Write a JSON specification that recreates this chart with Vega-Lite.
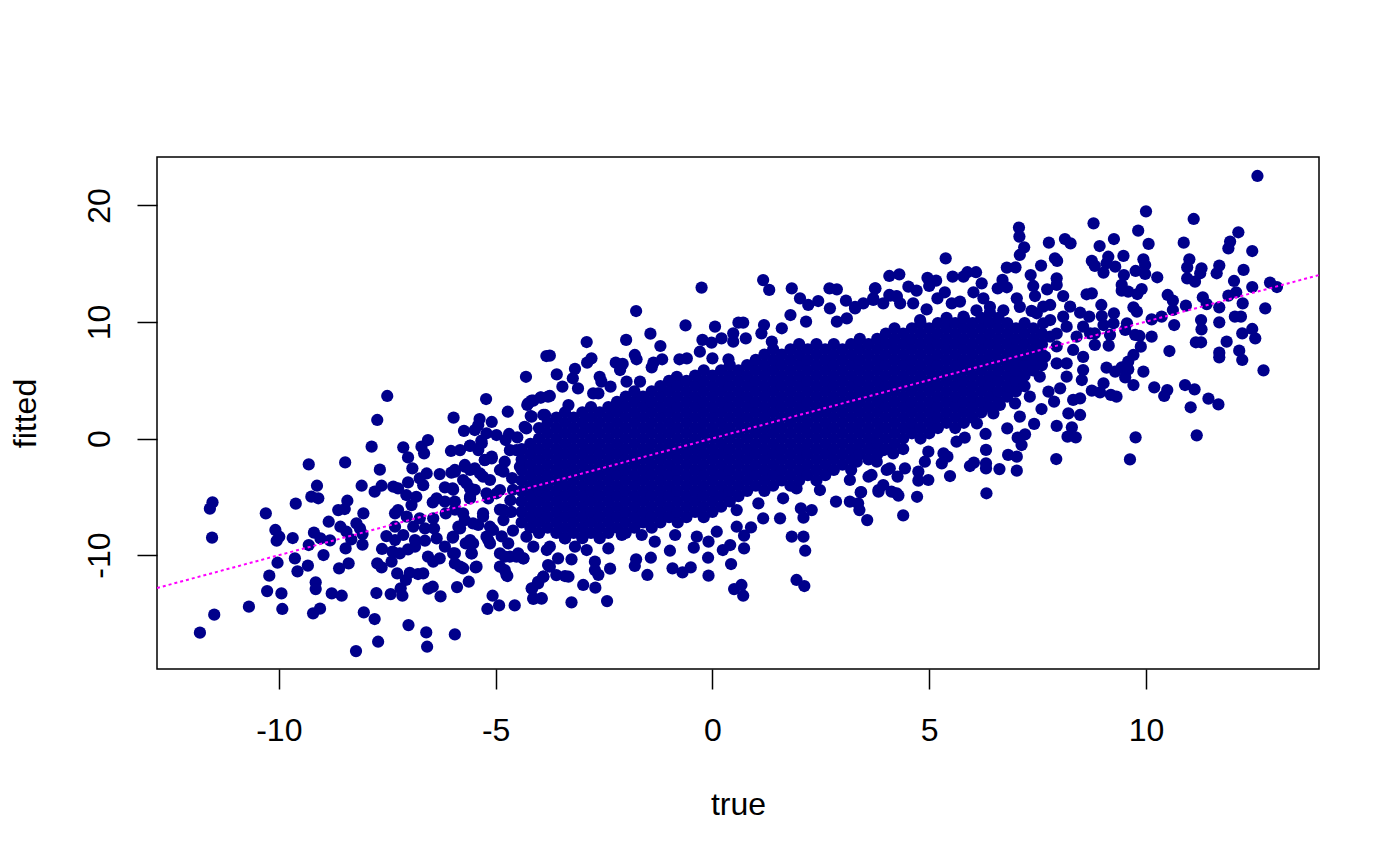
{"$schema":"https://vega.github.io/schema/vega-lite/v6.json","width":1162,"height":512,"autosize":"none","padding":{"left":157,"top":157,"right":81,"bottom":197},"background":"white","config":{"view":{"stroke":"black","strokeWidth":1.5,"fill":"white"},"font":"Liberation Sans"},"datasets":{"pts":[
{"x":-7.5,"y":3.65},{"x":-7.73,"y":1.59},{"x":-4.3,"y":5.3},{"x":-5.22,"y":3.39},{"x":-4.72,"y":2.3},{"x":-5.97,"y":1.79},{"x":-5.09,"y":1.42},{"x":-5.37,"y":1.67},{"x":-5.4,"y":1.16},{"x":-5.73,"y":0.65},{"x":-5.48,"y":0.73},{"x":-5.21,"y":0.45},{"x":-4.98,"y":0.3},{"x":-4.69,"y":0.39},{"x":-4.77,"y":-0.13},{"x":-5.33,"y":-0.19},{"x":-6.56,"y":-0.13},{"x":-6.71,"y":-0.7},{"x":-6.65,"y":-1.27},{"x":-7.86,"y":-0.7},{"x":-7.13,"y":-0.76},{"x":-7.02,"y":-1.62},{"x":-6.92,"y":-2.56},{"x":-6.03,"y":-1.07},{"x":-5.82,"y":-0.99},{"x":-5.59,"y":-0.64},{"x":-5.4,"y":-0.99},{"x":-5.25,"y":-1.85},{"x":-5.09,"y":-1.7},{"x":-9.31,"y":-2.22},{"x":-8.47,"y":-2.05},{"x":-7.67,"y":-2.67},{"x":-8.09,"y":-4.05},{"x":-9.12,"y":-4.05},{"x":-9.25,"y":-4.99},{"x":-9.09,"y":-5.13},{"x":-9.61,"y":-5.59},{"x":-10.3,"y":-6.42},{"x":-11.53,"y":-5.48},{"x":-11.59,"y":-6.02},{"x":-11.54,"y":-8.51},{"x":-10.08,"y":-7.85},{"x":-9.99,"y":-8.43},{"x":-10.05,"y":-8.77},{"x":-9.68,"y":-8.54},{"x":-9.19,"y":-8.08},{"x":-9.04,"y":-8.57},{"x":-8.82,"y":-8.74},{"x":-8.85,"y":-7.14},{"x":-8.63,"y":-6.14},{"x":-8.48,"y":-6.05},{"x":-8.42,"y":-5.34},{"x":-8.05,"y":-6.42},{"x":-8.21,"y":-7.28},{"x":-8.13,"y":-7.71},{"x":-8.58,"y":-7.57},{"x":-8.44,"y":-8},{"x":-8.33,"y":-8.65},{"x":-8.07,"y":-8.2},{"x":-9.31,"y":-9.14},{"x":-8.46,"y":-9.43},{"x":-8.07,"y":-9.11},{"x":-8.97,"y":-10},{"x":-9.63,"y":-10.28},{"x":-10.03,"y":-10.66},{"x":-9.33,"y":-10.91},{"x":-9.57,"y":-11.4},{"x":-10.22,"y":-11.77},{"x":-8.39,"y":-10.71},{"x":-8.61,"y":-11.14},{"x":-9.15,"y":-12.34},{"x":-9.15,"y":-12.92},{"x":-10.27,"y":-13.09},{"x":-9.94,"y":-13.29},{"x":-8.78,"y":-13.29},{"x":-8.55,"y":-13.49},{"x":-10.69,"y":-14.43},{"x":-9.92,"y":-14.63},{"x":-9.05,"y":-14.6},{"x":-9.21,"y":-15},{"x":-11.49,"y":-15.12},{"x":-11.82,"y":-16.66},{"x":-8.04,"y":-14.92},{"x":-7.79,"y":-15.49},{"x":-7.01,"y":-16.01},{"x":-6.6,"y":-16.64},{"x":-5.94,"y":-16.81},{"x":-7.71,"y":-17.44},{"x":-6.58,"y":-17.87},{"x":-8.22,"y":-18.24},{"x":-7.75,"y":-13.26},{"x":-7.42,"y":-13.35},{"x":-7.15,"y":-13.49},{"x":-7.19,"y":-12.86},{"x":-7.07,"y":-12.14},{"x":-6.98,"y":-11.52},{"x":-7.27,"y":-11.57},{"x":-6.79,"y":-11.63},{"x":-6.67,"y":-11.57},{"x":-6.55,"y":-12.89},{"x":-6.45,"y":-12.72},{"x":-6.27,"y":-13.55},{"x":-5.89,"y":-12.75},{"x":-5.62,"y":-12.29},{"x":-5.07,"y":-13.49},{"x":-5.19,"y":-14.63},{"x":-4.92,"y":-14.32},{"x":-4.56,"y":-14.32},{"x":-4.13,"y":-13.77},{"x":-3.94,"y":-13.75},{"x":-4.16,"y":-12.89},{"x":-4.02,"y":-12.43},{"x":-3.9,"y":-11.86},{"x":-7.73,"y":-10.71},{"x":-7.63,"y":-11.06},{"x":-7.62,"y":-9.48},{"x":-7.4,"y":-10.57},{"x":-7.38,"y":-9.71},{"x":-7.21,"y":-9.86},{"x":-7.02,"y":-9.51},{"x":-6.86,"y":-9.28},{"x":-7.52,"y":-8.37},{"x":-7.32,"y":-8.71},{"x":-7.13,"y":-8.28},{"x":-6.86,"y":-8.71},{"x":-6.63,"y":-8.77},{"x":-6.36,"y":-8.57},{"x":-6.17,"y":-9.28},{"x":-5.99,"y":-8.51},{"x":-6.56,"y":-10.14},{"x":-6.44,"y":-10.57},{"x":-6.29,"y":-10.28},{"x":-5.98,"y":-9.86},{"x":-5.94,"y":-10.71},{"x":-5.75,"y":-11.14},{"x":-5.46,"y":-11.06},{"x":-5.69,"y":-9},{"x":-5.52,"y":-9},{"x":-5.56,"y":-9.86},{"x":-4.79,"y":-11.29},{"x":-4.73,"y":-11.8},{"x":-5.13,"y":-9},{"x":-4.9,"y":-9.86},{"x":-4.71,"y":-9},{"x":-4.52,"y":-10.14},{"x":-4.36,"y":-10.28},{"x":-4.29,"y":-8.43},{"x":-7.32,"y":-6.42},{"x":-7.25,"y":-6.14},{"x":-7.05,"y":-6.71},{"x":-7.32,"y":-7.57},{"x":-6.9,"y":-7.57},{"x":-6.75,"y":-6.85},{"x":-6.44,"y":-6.85},{"x":-6.63,"y":-7.71},{"x":-6.42,"y":-7.71},{"x":-6.15,"y":-6.42},{"x":-5.86,"y":-7.57},{"x":-5.71,"y":-7},{"x":-5.4,"y":-7.42},{"x":-7.36,"y":-4.13},{"x":-7.25,"y":-4.28},{"x":-7.06,"y":-4.85},{"x":-7.02,"y":-3.76},{"x":-6.83,"y":-5},{"x":-6.94,"y":-5.71},{"x":-7.63,"y":-4.05},{"x":-7.79,"y":-4.56},{"x":-6.75,"y":-3.42},{"x":-6.59,"y":-3},{"x":-6.67,"y":-4},{"x":-6.29,"y":-3.05},{"x":-6.02,"y":-2.93},{"x":-5.94,"y":-2.7},{"x":-5.71,"y":-2.42},{"x":-5.48,"y":-2.56},{"x":-6.36,"y":-5.14},{"x":-6.45,"y":-5.48},{"x":-6.17,"y":-4.19},{"x":-5.99,"y":-4.28},{"x":-6.17,"y":-5.42},{"x":-5.94,"y":-5.42},{"x":-5.75,"y":-3.56},{"x":-5.59,"y":-4.28},{"x":-5.59,"y":-5.14},{"x":-5.17,"y":-5.14},{"x":-5.29,"y":-3.28},{"x":-4.82,"y":-2.85},{"x":-4.9,"y":-4.42},{"x":-4.82,"y":-6.14},{"x":-5.29,"y":-6.71},{"x":-5.06,"y":-7.85},{"x":-4.52,"y":-0.99},{"x":-4.29,"y":0.87},{"x":-4.17,"y":1.88},{"x":-4.25,"y":3.02},{"x":-4.13,"y":3.25},{"x":-3.96,"y":3.5},{"x":-3.79,"y":3.6},{"x":-3.9,"y":2.02},{"x":-4.44,"y":-2.42},{"x":-3.83,"y":7.08},
{"x":-0.25,"y":12.95},{"x":1.31,"y":12.75},{"x":1.17,"y":13.6},{"x":-1.76,"y":10.94},{"x":-0.62,"y":9.71},{"x":0.06,"y":9.6},{"x":0.71,"y":9.94},{"x":0.6,"y":9.94},{"x":1.83,"y":12.89},{"x":2.02,"y":12.03},{"x":2.21,"y":11.46},{"x":2.44,"y":11.8},{"x":2.7,"y":12.89},{"x":2.87,"y":12.8},{"x":3.08,"y":11.83},{"x":2.71,"y":11.17},{"x":3.29,"y":11.17},{"x":3.75,"y":12.89},{"x":3.71,"y":12.03},{"x":4.1,"y":12.26},{"x":4.25,"y":12.17},{"x":1.8,"y":10.6},{"x":2.16,"y":10.03},{"x":1.19,"y":9.74},{"x":1.13,"y":9.03},{"x":1.6,"y":9.46},{"x":2.87,"y":10.03},{"x":3.1,"y":10.31},{"x":-1.43,"y":9},{"x":-1.99,"y":8.46},{"x":-2.9,"y":8.28},{"x":-1.2,"y":7.94},{"x":-0.23,"y":8.46},{"x":-0.02,"y":8.23},{"x":0.21,"y":8.6},{"x":0.48,"y":9.03},{"x":0.48,"y":8.31},{"x":0.77,"y":8.6},{"x":1.37,"y":8.31},{"x":-3.75,"y":7.11},{"x":-2.79,"y":6.88},{"x":-2.89,"y":6.51},{"x":-1.79,"y":7.17},{"x":-1.75,"y":6.8},{"x":-2.23,"y":6.51},{"x":-2.07,"y":6.4},{"x":-2.13,"y":5.88},{"x":-1.16,"y":6.8},{"x":-1.36,"y":6.51},{"x":-0.76,"y":6.8},{"x":-0.59,"y":6.88},{"x":-0.29,"y":7.45},{"x":0,"y":6.88},{"x":0.37,"y":6.8},{"x":-3.59,"y":5.5},{"x":-3.17,"y":5.97},{"x":-3.22,"y":5.17},{"x":-2.6,"y":5.3},{"x":-2.56,"y":4.88},{"x":-2.35,"y":4.45},{"x":-3.46,"y":4.45},{"x":-3.1,"y":4.3},{"x":-2.75,"y":3.88},{"x":-2.63,"y":3.88},{"x":-1.4,"y":6.11},{"x":-0.82,"y":5.3},{"x":-1.98,"y":4.88},{"x":-1.67,"y":4.88},{"x":-3.75,"y":3.65},{"x":-3.96,"y":3.54},{"x":-4.17,"y":3.25},{"x":-4.27,"y":2.88},{"x":-3.86,"y":2.02},{"x":-4.19,"y":1.93},{"x":-4.33,"y":1},{"x":-3.32,"y":2.87},
{"x":-3.25,"y":-14.06},{"x":-2.43,"y":-13.95},{"x":-2.98,"y":-12.57},{"x":-2.7,"y":-12.8},{"x":-3.4,"y":-11.8},{"x":-3.6,"y":-11.72},{"x":-3.32,"y":-11.86},{"x":-2.36,"y":-11.17},{"x":-2.63,"y":-11.7},{"x":-2.71,"y":-10.57},{"x":-2.71,"y":-11.29},{"x":-1.5,"y":-11.71},{"x":-1.76,"y":-10.37},{"x":-1.79,"y":-10.94},{"x":-1.42,"y":-10.23},{"x":-0.98,"y":-9.63},{"x":-0.92,"y":-11.14},{"x":-0.69,"y":-11.49},{"x":-0.5,"y":-11.06},{"x":-0.09,"y":-11.77},{"x":-0.1,"y":-10.23},{"x":0.43,"y":-10.77},{"x":0.5,"y":-12.92},{"x":0.67,"y":-12.57},{"x":0.71,"y":-13.49},{"x":-0.43,"y":-9.37},{"x":0.24,"y":-9.57},{"x":0.41,"y":-9.14},{"x":0.73,"y":-9.43},{"x":1.94,"y":-12.14},{"x":2.12,"y":-12.66},{"x":2.14,"y":-9.63},{"x":1.83,"y":-8.42},{"x":2.1,"y":-8.42},{"x":3.57,"y":-7},{"x":0.73,"y":-8.34},{"x":0.89,"y":-7.62},{"x":0.56,"y":-7.57},{"x":1.17,"y":-6.85},{"x":1.56,"y":-6.85},{"x":2.1,"y":-6.79},{"x":2.04,"y":-6},{"x":2.29,"y":-6.14},{"x":2.85,"y":-5.42},{"x":3.39,"y":-6.14},{"x":3.43,"y":-4.59},{"x":4.4,"y":-6.6},{"x":3.83,"y":-4.56},{"x":4.25,"y":-4.7},{"x":3.17,"y":-5.42},{"x":2.48,"y":-4.42},{"x":3.6,"y":-3.28},{"x":4.02,"y":-2.7},{"x":1.94,"y":-4.28},{"x":1.06,"y":-5.56},{"x":1.63,"y":-5.13},{"x":0.1,"y":-8},{"x":-0.09,"y":-8.85},{"x":-0.86,"y":-8.28},{"x":-1.33,"y":-8.85},{"x":-1.63,"y":-8.28},{"x":-2.09,"y":-8.28},{"x":-2.4,"y":-9.43},{"x":-2.9,"y":-9.57},{"x":-3.17,"y":-9.28},{"x":-3.4,"y":-8.57},{"x":-3.25,"y":-10.37},{"x":-3.56,"y":-10.28},{"x":-3.79,"y":-10.86},{"x":-3.75,"y":-9.28},{"x":-4.36,"y":-10.28},{"x":-4.67,"y":-10.14},{"x":-0.36,"y":-8.42},{"x":0.56,"y":-6.14},
{"x":12.57,"y":22.53},{"x":10,"y":19.5},{"x":11.1,"y":18.84},{"x":8.79,"y":18.47},{"x":9.82,"y":17.84},{"x":12.13,"y":17.7},{"x":7.07,"y":18.1},{"x":7.08,"y":17.33},{"x":8.13,"y":17.12},{"x":8.26,"y":16.75},{"x":7.76,"y":16.81},{"x":7.19,"y":16.41},{"x":7.09,"y":15.75},{"x":9.26,"y":17.12},{"x":8.93,"y":16.52},{"x":10.06,"y":16.7},{"x":10.87,"y":16.81},{"x":11.94,"y":16.9},{"x":11.9,"y":16.32},{"x":12.45,"y":16.09},{"x":5.38,"y":15.46},{"x":9.13,"y":15.6},{"x":9.48,"y":15.67},{"x":9.94,"y":15.38},{"x":11,"y":15.38},{"x":7.9,"y":15.47},{"x":7.95,"y":15.24},{"x":8.75,"y":15.24},{"x":8.82,"y":14.81},{"x":9.29,"y":14.75},{"x":9.09,"y":15.04},{"x":9.98,"y":14.89},{"x":10.95,"y":14.69},{"x":7.58,"y":14.84},{"x":6.79,"y":14.67},{"x":6.99,"y":14.69},{"x":11.69,"y":14.84},{"x":11.28,"y":14.61},{"x":12.25,"y":14.47},{"x":4.08,"y":13.95},{"x":4.31,"y":14.09},{"x":4.96,"y":13.78},{"x":5.16,"y":13.55},{"x":5,"y":13.09},{"x":5.54,"y":13.89},{"x":5.79,"y":13.89},{"x":5.88,"y":14.27},{"x":6.08,"y":14.27},{"x":9.02,"y":14.24},{"x":9.49,"y":14.03},{"x":9.76,"y":14.38},{"x":9.98,"y":14.12},{"x":10.26,"y":13.84},{"x":11.63,"y":14.18},{"x":11.25,"y":14.18},{"x":10.95,"y":13.75},{"x":11.13,"y":13.46},{"x":7.34,"y":14.03},{"x":7.94,"y":13.75},{"x":12.03,"y":13.52},{"x":12.86,"y":13.38},{"x":13.02,"y":13},{"x":12.45,"y":13},{"x":6.21,"y":13.32},{"x":6.69,"y":13.61},{"x":6.58,"y":12.89},{"x":6.79,"y":12.98},{"x":7.4,"y":13.09},{"x":7.94,"y":13.18},{"x":7.72,"y":12.8},{"x":9.44,"y":13.18},{"x":9.44,"y":12.69},{"x":9.59,"y":12.6},{"x":9.8,"y":12.4},{"x":9.9,"y":12.83},{"x":3.76,"y":12.89},{"x":4.52,"y":13.03},{"x":4.71,"y":12.69},{"x":4.08,"y":12.32},{"x":4.25,"y":12.23},{"x":5.36,"y":12.55},{"x":6.02,"y":12.55},{"x":7.44,"y":12.23},{"x":8.63,"y":12.38},{"x":8.75,"y":12.46},{"x":8.09,"y":12.23},{"x":10.5,"y":12.32},{"x":12.08,"y":12.55},{"x":11.9,"y":12.26},{"x":11.31,"y":12.12},{"x":10.62,"y":11.83},{"x":5.19,"y":12.03},{"x":5.71,"y":11.75},{"x":5.52,"y":11.6},{"x":7.02,"y":12.03},{"x":6.25,"y":12.03},{"x":12.23,"y":11.6},{"x":11.4,"y":11.54},{"x":12.75,"y":11.17},{"x":11.69,"y":11.26},{"x":10.92,"y":11.4},{"x":8.97,"y":11.46},{"x":9.71,"y":11.26},{"x":9.79,"y":10.89},{"x":10.62,"y":11.03},{"x":9.26,"y":10.75},{"x":4.94,"y":11.09},{"x":7.36,"y":10.95},{"x":7.63,"y":11.32},{"x":7.79,"y":11.46},{"x":8.25,"y":11.32},{"x":8.48,"y":10.8},{"x":10.36,"y":10.46},{"x":10.13,"y":10.23},{"x":12.19,"y":10.46},{"x":12.05,"y":10.46},{"x":8.98,"y":10.51},{"x":8.69,"y":10.46},{"x":11.27,"y":10.17},{"x":11.69,"y":9.97},{"x":10.65,"y":9.74},{"x":9.25,"y":9.89},{"x":9.56,"y":9.89},{"x":9.02,"y":9.74},{"x":9.52,"y":9.32},{"x":9.75,"y":8.89},{"x":9.85,"y":8.8},{"x":10.13,"y":8.74},{"x":11.28,"y":9.37},{"x":12.45,"y":9.4},{"x":12.22,"y":9.03},{"x":12.52,"y":8.6},{"x":9.17,"y":8.89},{"x":8.82,"y":9.03},{"x":8.82,"y":8.03},{"x":9.14,"y":7.97},{"x":11.15,"y":8.26},{"x":11.27,"y":8.26},{"x":11.86,"y":8.31},{"x":9.88,"y":7.88},{"x":10.54,"y":7.51},{"x":11.69,"y":7.37},{"x":11.69,"y":6.97},{"x":12.15,"y":7.54},{"x":12.22,"y":6.74},{"x":9.71,"y":7.17},{"x":9.59,"y":6.6},{"x":12.71,"y":5.85},{"x":9.94,"y":5.74},{"x":9.09,"y":6.08},{"x":9.29,"y":5.74},{"x":9.44,"y":6.11},{"x":9.59,"y":5.94},{"x":9.52,"y":5.25},{"x":9.71,"y":4.59},{"x":9.02,"y":4.74},{"x":8.75,"y":4.11},{"x":8.94,"y":3.96},{"x":9.19,"y":3.74},{"x":9.32,"y":3.59},{"x":10.19,"y":4.39},{"x":10.49,"y":4.16},{"x":10.42,"y":3.65},{"x":10.9,"y":4.59},{"x":11.12,"y":4.22},{"x":11.44,"y":3.42},{"x":11.67,"y":2.93},{"x":11.03,"y":2.68},{"x":11.17,"y":0.27},{"x":9.76,"y":0.1},{"x":9.63,"y":-1.79},{"x":8.52,"y":5.02},{"x":8.48,"y":3.45},{"x":8.32,"y":3.31},{"x":8.48,"y":2.02},{"x":8.21,"y":2.16},{"x":7.88,"y":3.16},{"x":7.59,"y":2.53},{"x":8.02,"y":4.31},{"x":7.75,"y":4.02},{"x":8.55,"y":5.88},{"x":8.17,"y":5.31},{"x":7.94,"y":6.45},{"x":7.67,"y":7.03},{"x":7.55,"y":5.31},{"x":7.32,"y":3.59},{"x":6.98,"y":3.02},{"x":7.09,"y":1.88},{"x":7.42,"y":1.25},{"x":7.94,"y":1.08},{"x":8.29,"y":0.96},{"x":8.19,"y":0.16},{"x":8.38,"y":0.1},{"x":6.8,"y":0.87},{"x":7.21,"y":0.36},{"x":7.04,"y":0.07},{"x":7.13,"y":-0.56},{"x":6.3,"y":0.39},{"x":6.31,"y":-0.98},{"x":6.82,"y":-1.41},{"x":7.02,"y":-1.56},{"x":7.93,"y":-1.76},{"x":7.02,"y":-2.76},{"x":6.62,"y":-2.62},{"x":6.31,"y":-2.13},{"x":6.31,"y":-2.56},{"x":6.03,"y":-2.07},{"x":5.94,"y":-2.36},{"x":6.32,"y":-4.7},{"x":5.82,"y":0.07},{"x":5.63,"y":-0.27},{"x":5.48,"y":-3.22},{"x":5.42,"y":-1.56},{"x":5.33,"y":-1.27},{"x":5.29,"y":-2.13},{"x":4.98,"y":-1.13},{"x":4.9,"y":-1.99},{"x":4.98,"y":-3.56},{"x":4.75,"y":-2.84},{"x":4.75,"y":-3.62},{"x":4.72,"y":-5},{"x":4.29,"y":-4.9},{"x":4.13,"y":-4.56},{"x":3.83,"y":-4.42},{"x":3.42,"y":-4.62},{"x":3.36,"y":-5.56},{"x":4.27,"y":-3.27},{"x":3.94,"y":-3.99},{"x":3.67,"y":-3.13},{"x":3.79,"y":-1.99},{"x":4.17,"y":-1.27},{"x":4.44,"y":-2.56},{"x":4.09,"y":-2.56},{"x":3.33,"y":-1.99},{"x":3.17,"y":-3.56},{"x":6.1,"y":1.3},{"x":6.48,"y":2.16},{"x":6.63,"y":2.88},{"x":6.79,"y":4.16},{"x":7.02,"y":4.74},{"x":6.56,"y":5.02},{"x":5.09,"y":1.59},{"x":7.25,"y":7.03},
{"x":-5.98,"y":-8.42},{"x":-5.59,"y":-8.71},{"x":-5.55,"y":-9.86},{"x":-5.94,"y":-9.86},{"x":-5.82,"y":-11},{"x":-5.44,"y":-11},{"x":-5.17,"y":-8.71},{"x":-4.86,"y":-8.4},{"x":-4.79,"y":-10.14},{"x":-4.9,"y":-11},{"x":-4.75,"y":-11.7},{"x":-4.48,"y":-9.86},{"x":-4.13,"y":-9.28},{"x":-3.82,"y":-9.57},{"x":-3.75,"y":-11},{"x":-3.9,"y":-11.86},{"x":-4.02,"y":-12.3},{"x":-4.17,"y":-12.86},{"x":-4.13,"y":-13.7},{"x":-3.94,"y":-13.7},{"x":-5.59,"y":-0.6},{"x":-5.32,"y":-0.4},{"x":-5.25,"y":-1.84},{"x":-5.09,"y":-1.56},{"x":-5.71,"y":-2.27},{"x":-5.94,"y":-2.85},{"x":-5.59,"y":-2.7},{"x":-5.36,"y":-3},{"x":-5.67,"y":-3.85},{"x":-5.98,"y":-4.4},{"x":-5.48,"y":-4.4},{"x":-5.13,"y":-3.56},{"x":-4.9,"y":-2.7},{"x":-4.79,"y":-1.99},{"x":-4.67,"y":-1},{"x":-4.5,"y":0.1},{"x":-5.59,"y":-5},{"x":-5.21,"y":-4.7},{"x":-4.98,"y":-4.7},{"x":-4.9,"y":-6.1},{"x":-5.29,"y":-6.42},{"x":-5.75,"y":-6.42},{"x":-5.94,"y":-6.1},{"x":-5.52,"y":-7.28},{"x":-5.82,"y":-7.71},{"x":-5.13,"y":-7.57},{"x":-4.82,"y":-7},{"x":-5.21,"y":-8.42},{"x":-4.62,"y":-3.4},{"x":-4.66,"y":-5.3},{"x":-4.6,"y":-7.9},{"x":-4.6,"y":-4.4},{"x":-4.64,"y":-6.3},
{"x":7.79,"y":10.17},{"x":8.17,"y":9.6},{"x":8.55,"y":9.6},{"x":7.94,"y":9},{"x":8.4,"y":8.74},{"x":7.94,"y":7.9},{"x":8.32,"y":7.6},{"x":8.55,"y":7},{"x":8.17,"y":6.45},{"x":7.79,"y":8.74},{"x":7.63,"y":9.89},{"x":8.71,"y":9.03},{"x":8.09,"y":10.46},{"x":7.48,"y":10.75},{"x":7.4,"y":5.88},{"x":7.09,"y":6.74},{"x":6.86,"y":6.17},{"x":7.02,"y":5.3},{"x":3.94,"y":11.6},{"x":4.33,"y":11.6},{"x":4.63,"y":11.6},{"x":4.79,"y":10.17},{"x":5.4,"y":10.17},{"x":5.79,"y":10.46},{"x":6.09,"y":11},{"x":6.4,"y":11.3},{"x":6.71,"y":11},{"x":7.09,"y":11.3},{"x":3.48,"y":11.6},{"x":3.29,"y":11.3},{"x":3.71,"y":11.9},{"x":3.94,"y":-1},{"x":3.71,"y":-0.4},{"x":4.56,"y":1},{"x":5.1,"y":2.7},{"x":5.63,"y":3.3},{"x":6,"y":3.3},{"x":6.48,"y":3.9},
{"x":-4.4,"y":-7.2},{"x":-4.4,"y":-6.3},{"x":-4.4,"y":-5.4},{"x":-4.4,"y":-4.5},{"x":-4.4,"y":-3.6},{"x":-4.4,"y":-2.7},{"x":-4.4,"y":-1.8},{"x":-4.4,"y":-0.9},
{"x":-4.2,"y":-7.65},{"x":-4.2,"y":-6.75},{"x":-4.2,"y":-5.85},{"x":-4.2,"y":-4.95},{"x":-4.2,"y":-4.05},{"x":-4.2,"y":-3.15},{"x":-4.2,"y":-2.25},{"x":-4.2,"y":-1.35},{"x":-4.2,"y":-0.45},
{"x":-4,"y":-8.1},{"x":-4,"y":-7.2},{"x":-4,"y":-6.3},{"x":-4,"y":-5.4},{"x":-4,"y":-4.5},{"x":-4,"y":-3.6},{"x":-4,"y":-2.7},{"x":-4,"y":-1.8},{"x":-4,"y":-0.9},{"x":-4,"y":0},{"x":-4,"y":0.9},
{"x":-3.8,"y":-7.65},{"x":-3.8,"y":-6.75},{"x":-3.8,"y":-5.85},{"x":-3.8,"y":-4.95},{"x":-3.8,"y":-4.05},{"x":-3.8,"y":-3.15},{"x":-3.8,"y":-2.25},{"x":-3.8,"y":-1.35},{"x":-3.8,"y":-0.45},{"x":-3.8,"y":0.45},{"x":-3.8,"y":1.35},
{"x":-3.6,"y":-8.1},{"x":-3.6,"y":-7.2},{"x":-3.6,"y":-6.3},{"x":-3.6,"y":-5.4},{"x":-3.6,"y":-4.5},{"x":-3.6,"y":-3.6},{"x":-3.6,"y":-2.7},{"x":-3.6,"y":-1.8},{"x":-3.6,"y":-0.9},{"x":-3.6,"y":0},{"x":-3.6,"y":0.9},{"x":-3.6,"y":1.8},
{"x":-3.4,"y":-8.55},{"x":-3.4,"y":-7.65},{"x":-3.4,"y":-6.75},{"x":-3.4,"y":-5.85},{"x":-3.4,"y":-4.95},{"x":-3.4,"y":-4.05},{"x":-3.4,"y":-3.15},{"x":-3.4,"y":-2.25},{"x":-3.4,"y":-1.35},{"x":-3.4,"y":-0.45},{"x":-3.4,"y":0.45},{"x":-3.4,"y":1.35},{"x":-3.4,"y":2.25},
{"x":-3.2,"y":-8.1},{"x":-3.2,"y":-7.2},{"x":-3.2,"y":-6.3},{"x":-3.2,"y":-5.4},{"x":-3.2,"y":-4.5},{"x":-3.2,"y":-3.6},{"x":-3.2,"y":-2.7},{"x":-3.2,"y":-1.8},{"x":-3.2,"y":-0.9},{"x":-3.2,"y":0},{"x":-3.2,"y":0.9},{"x":-3.2,"y":1.8},
{"x":-3,"y":-8.55},{"x":-3,"y":-7.65},{"x":-3,"y":-6.75},{"x":-3,"y":-5.85},{"x":-3,"y":-4.95},{"x":-3,"y":-4.05},{"x":-3,"y":-3.15},{"x":-3,"y":-2.25},{"x":-3,"y":-1.35},{"x":-3,"y":-0.45},{"x":-3,"y":0.45},{"x":-3,"y":1.35},{"x":-3,"y":2.25},
{"x":-2.8,"y":-8.1},{"x":-2.8,"y":-7.2},{"x":-2.8,"y":-6.3},{"x":-2.8,"y":-5.4},{"x":-2.8,"y":-4.5},{"x":-2.8,"y":-3.6},{"x":-2.8,"y":-2.7},{"x":-2.8,"y":-1.8},{"x":-2.8,"y":-0.9},{"x":-2.8,"y":0},{"x":-2.8,"y":0.9},{"x":-2.8,"y":1.8},{"x":-2.8,"y":2.7},
{"x":-2.6,"y":-8.55},{"x":-2.6,"y":-7.65},{"x":-2.6,"y":-6.75},{"x":-2.6,"y":-5.85},{"x":-2.6,"y":-4.95},{"x":-2.6,"y":-4.05},{"x":-2.6,"y":-3.15},{"x":-2.6,"y":-2.25},{"x":-2.6,"y":-1.35},{"x":-2.6,"y":-0.45},{"x":-2.6,"y":0.45},{"x":-2.6,"y":1.35},{"x":-2.6,"y":2.25},
{"x":-2.4,"y":-8.1},{"x":-2.4,"y":-7.2},{"x":-2.4,"y":-6.3},{"x":-2.4,"y":-5.4},{"x":-2.4,"y":-4.5},{"x":-2.4,"y":-3.6},{"x":-2.4,"y":-2.7},{"x":-2.4,"y":-1.8},{"x":-2.4,"y":-0.9},{"x":-2.4,"y":0},{"x":-2.4,"y":0.9},{"x":-2.4,"y":1.8},{"x":-2.4,"y":2.7},
{"x":-2.2,"y":-7.65},{"x":-2.2,"y":-6.75},{"x":-2.2,"y":-5.85},{"x":-2.2,"y":-4.95},{"x":-2.2,"y":-4.05},{"x":-2.2,"y":-3.15},{"x":-2.2,"y":-2.25},{"x":-2.2,"y":-1.35},{"x":-2.2,"y":-0.45},{"x":-2.2,"y":0.45},{"x":-2.2,"y":1.35},{"x":-2.2,"y":2.25},{"x":-2.2,"y":3.15},
{"x":-2,"y":-8.1},{"x":-2,"y":-7.2},{"x":-2,"y":-6.3},{"x":-2,"y":-5.4},{"x":-2,"y":-4.5},{"x":-2,"y":-3.6},{"x":-2,"y":-2.7},{"x":-2,"y":-1.8},{"x":-2,"y":-0.9},{"x":-2,"y":0},{"x":-2,"y":0.9},{"x":-2,"y":1.8},{"x":-2,"y":2.7},{"x":-2,"y":3.6},
{"x":-1.8,"y":-7.65},{"x":-1.8,"y":-6.75},{"x":-1.8,"y":-5.85},{"x":-1.8,"y":-4.95},{"x":-1.8,"y":-4.05},{"x":-1.8,"y":-3.15},{"x":-1.8,"y":-2.25},{"x":-1.8,"y":-1.35},{"x":-1.8,"y":-0.45},{"x":-1.8,"y":0.45},{"x":-1.8,"y":1.35},{"x":-1.8,"y":2.25},{"x":-1.8,"y":3.15},{"x":-1.8,"y":4.05},
{"x":-1.6,"y":-7.2},{"x":-1.6,"y":-6.3},{"x":-1.6,"y":-5.4},{"x":-1.6,"y":-4.5},{"x":-1.6,"y":-3.6},{"x":-1.6,"y":-2.7},{"x":-1.6,"y":-1.8},{"x":-1.6,"y":-0.9},{"x":-1.6,"y":0},{"x":-1.6,"y":0.9},{"x":-1.6,"y":1.8},{"x":-1.6,"y":2.7},{"x":-1.6,"y":3.6},
{"x":-1.4,"y":-7.65},{"x":-1.4,"y":-6.75},{"x":-1.4,"y":-5.85},{"x":-1.4,"y":-4.95},{"x":-1.4,"y":-4.05},{"x":-1.4,"y":-3.15},{"x":-1.4,"y":-2.25},{"x":-1.4,"y":-1.35},{"x":-1.4,"y":-0.45},{"x":-1.4,"y":0.45},{"x":-1.4,"y":1.35},{"x":-1.4,"y":2.25},{"x":-1.4,"y":3.15},{"x":-1.4,"y":4.05},
{"x":-1.2,"y":-7.2},{"x":-1.2,"y":-6.3},{"x":-1.2,"y":-5.4},{"x":-1.2,"y":-4.5},{"x":-1.2,"y":-3.6},{"x":-1.2,"y":-2.7},{"x":-1.2,"y":-1.8},{"x":-1.2,"y":-0.9},{"x":-1.2,"y":0},{"x":-1.2,"y":0.9},{"x":-1.2,"y":1.8},{"x":-1.2,"y":2.7},{"x":-1.2,"y":3.6},{"x":-1.2,"y":4.5},
{"x":-1,"y":-6.75},{"x":-1,"y":-5.85},{"x":-1,"y":-4.95},{"x":-1,"y":-4.05},{"x":-1,"y":-3.15},{"x":-1,"y":-2.25},{"x":-1,"y":-1.35},{"x":-1,"y":-0.45},{"x":-1,"y":0.45},{"x":-1,"y":1.35},{"x":-1,"y":2.25},{"x":-1,"y":3.15},{"x":-1,"y":4.05},{"x":-1,"y":4.95},
{"x":-0.8,"y":-7.2},{"x":-0.8,"y":-6.3},{"x":-0.8,"y":-5.4},{"x":-0.8,"y":-4.5},{"x":-0.8,"y":-3.6},{"x":-0.8,"y":-2.7},{"x":-0.8,"y":-1.8},{"x":-0.8,"y":-0.9},{"x":-0.8,"y":0},{"x":-0.8,"y":0.9},{"x":-0.8,"y":1.8},{"x":-0.8,"y":2.7},{"x":-0.8,"y":3.6},{"x":-0.8,"y":4.5},
{"x":-0.6,"y":-6.75},{"x":-0.6,"y":-5.85},{"x":-0.6,"y":-4.95},{"x":-0.6,"y":-4.05},{"x":-0.6,"y":-3.15},{"x":-0.6,"y":-2.25},{"x":-0.6,"y":-1.35},{"x":-0.6,"y":-0.45},{"x":-0.6,"y":0.45},{"x":-0.6,"y":1.35},{"x":-0.6,"y":2.25},{"x":-0.6,"y":3.15},{"x":-0.6,"y":4.05},{"x":-0.6,"y":4.95},
{"x":-0.4,"y":-6.3},{"x":-0.4,"y":-5.4},{"x":-0.4,"y":-4.5},{"x":-0.4,"y":-3.6},{"x":-0.4,"y":-2.7},{"x":-0.4,"y":-1.8},{"x":-0.4,"y":-0.9},{"x":-0.4,"y":0},{"x":-0.4,"y":0.9},{"x":-0.4,"y":1.8},{"x":-0.4,"y":2.7},{"x":-0.4,"y":3.6},{"x":-0.4,"y":4.5},{"x":-0.4,"y":5.4},
{"x":-0.2,"y":-6.75},{"x":-0.2,"y":-5.85},{"x":-0.2,"y":-4.95},{"x":-0.2,"y":-4.05},{"x":-0.2,"y":-3.15},{"x":-0.2,"y":-2.25},{"x":-0.2,"y":-1.35},{"x":-0.2,"y":-0.45},{"x":-0.2,"y":0.45},{"x":-0.2,"y":1.35},{"x":-0.2,"y":2.25},{"x":-0.2,"y":3.15},{"x":-0.2,"y":4.05},{"x":-0.2,"y":4.95},{"x":-0.2,"y":5.85},
{"x":0,"y":-6.3},{"x":0,"y":-5.4},{"x":0,"y":-4.5},{"x":0,"y":-3.6},{"x":0,"y":-2.7},{"x":0,"y":-1.8},{"x":0,"y":-0.9},{"x":0,"y":0},{"x":0,"y":0.9},{"x":0,"y":1.8},{"x":0,"y":2.7},{"x":0,"y":3.6},{"x":0,"y":4.5},{"x":0,"y":5.4},
{"x":0.2,"y":-5.85},{"x":0.2,"y":-4.95},{"x":0.2,"y":-4.05},{"x":0.2,"y":-3.15},{"x":0.2,"y":-2.25},{"x":0.2,"y":-1.35},{"x":0.2,"y":-0.45},{"x":0.2,"y":0.45},{"x":0.2,"y":1.35},{"x":0.2,"y":2.25},{"x":0.2,"y":3.15},{"x":0.2,"y":4.05},{"x":0.2,"y":4.95},{"x":0.2,"y":5.85},
{"x":0.4,"y":-5.4},{"x":0.4,"y":-4.5},{"x":0.4,"y":-3.6},{"x":0.4,"y":-2.7},{"x":0.4,"y":-1.8},{"x":0.4,"y":-0.9},{"x":0.4,"y":0},{"x":0.4,"y":0.9},{"x":0.4,"y":1.8},{"x":0.4,"y":2.7},{"x":0.4,"y":3.6},{"x":0.4,"y":4.5},{"x":0.4,"y":5.4},{"x":0.4,"y":6.3},
{"x":0.6,"y":-4.95},{"x":0.6,"y":-4.05},{"x":0.6,"y":-3.15},{"x":0.6,"y":-2.25},{"x":0.6,"y":-1.35},{"x":0.6,"y":-0.45},{"x":0.6,"y":0.45},{"x":0.6,"y":1.35},{"x":0.6,"y":2.25},{"x":0.6,"y":3.15},{"x":0.6,"y":4.05},{"x":0.6,"y":4.95},{"x":0.6,"y":5.85},
{"x":0.8,"y":-4.5},{"x":0.8,"y":-3.6},{"x":0.8,"y":-2.7},{"x":0.8,"y":-1.8},{"x":0.8,"y":-0.9},{"x":0.8,"y":0},{"x":0.8,"y":0.9},{"x":0.8,"y":1.8},{"x":0.8,"y":2.7},{"x":0.8,"y":3.6},{"x":0.8,"y":4.5},{"x":0.8,"y":5.4},{"x":0.8,"y":6.3},
{"x":1,"y":-4.05},{"x":1,"y":-3.15},{"x":1,"y":-2.25},{"x":1,"y":-1.35},{"x":1,"y":-0.45},{"x":1,"y":0.45},{"x":1,"y":1.35},{"x":1,"y":2.25},{"x":1,"y":3.15},{"x":1,"y":4.05},{"x":1,"y":4.95},{"x":1,"y":5.85},{"x":1,"y":6.75},
{"x":1.2,"y":-4.5},{"x":1.2,"y":-3.6},{"x":1.2,"y":-2.7},{"x":1.2,"y":-1.8},{"x":1.2,"y":-0.9},{"x":1.2,"y":0},{"x":1.2,"y":0.9},{"x":1.2,"y":1.8},{"x":1.2,"y":2.7},{"x":1.2,"y":3.6},{"x":1.2,"y":4.5},{"x":1.2,"y":5.4},{"x":1.2,"y":6.3},{"x":1.2,"y":7.2},
{"x":1.4,"y":-4.05},{"x":1.4,"y":-3.15},{"x":1.4,"y":-2.25},{"x":1.4,"y":-1.35},{"x":1.4,"y":-0.45},{"x":1.4,"y":0.45},{"x":1.4,"y":1.35},{"x":1.4,"y":2.25},{"x":1.4,"y":3.15},{"x":1.4,"y":4.05},{"x":1.4,"y":4.95},{"x":1.4,"y":5.85},{"x":1.4,"y":6.75},{"x":1.4,"y":7.65},
{"x":1.6,"y":-3.6},{"x":1.6,"y":-2.7},{"x":1.6,"y":-1.8},{"x":1.6,"y":-0.9},{"x":1.6,"y":0},{"x":1.6,"y":0.9},{"x":1.6,"y":1.8},{"x":1.6,"y":2.7},{"x":1.6,"y":3.6},{"x":1.6,"y":4.5},{"x":1.6,"y":5.4},{"x":1.6,"y":6.3},{"x":1.6,"y":7.2},
{"x":1.8,"y":-4.05},{"x":1.8,"y":-3.15},{"x":1.8,"y":-2.25},{"x":1.8,"y":-1.35},{"x":1.8,"y":-0.45},{"x":1.8,"y":0.45},{"x":1.8,"y":1.35},{"x":1.8,"y":2.25},{"x":1.8,"y":3.15},{"x":1.8,"y":4.05},{"x":1.8,"y":4.95},{"x":1.8,"y":5.85},{"x":1.8,"y":6.75},{"x":1.8,"y":7.65},
{"x":2,"y":-3.6},{"x":2,"y":-2.7},{"x":2,"y":-1.8},{"x":2,"y":-0.9},{"x":2,"y":0},{"x":2,"y":0.9},{"x":2,"y":1.8},{"x":2,"y":2.7},{"x":2,"y":3.6},{"x":2,"y":4.5},{"x":2,"y":5.4},{"x":2,"y":6.3},{"x":2,"y":7.2},{"x":2,"y":8.1},
{"x":2.2,"y":-3.15},{"x":2.2,"y":-2.25},{"x":2.2,"y":-1.35},{"x":2.2,"y":-0.45},{"x":2.2,"y":0.45},{"x":2.2,"y":1.35},{"x":2.2,"y":2.25},{"x":2.2,"y":3.15},{"x":2.2,"y":4.05},{"x":2.2,"y":4.95},{"x":2.2,"y":5.85},{"x":2.2,"y":6.75},{"x":2.2,"y":7.65},
{"x":2.4,"y":-3.6},{"x":2.4,"y":-2.7},{"x":2.4,"y":-1.8},{"x":2.4,"y":-0.9},{"x":2.4,"y":0},{"x":2.4,"y":0.9},{"x":2.4,"y":1.8},{"x":2.4,"y":2.7},{"x":2.4,"y":3.6},{"x":2.4,"y":4.5},{"x":2.4,"y":5.4},{"x":2.4,"y":6.3},{"x":2.4,"y":7.2},{"x":2.4,"y":8.1},
{"x":2.6,"y":-3.15},{"x":2.6,"y":-2.25},{"x":2.6,"y":-1.35},{"x":2.6,"y":-0.45},{"x":2.6,"y":0.45},{"x":2.6,"y":1.35},{"x":2.6,"y":2.25},{"x":2.6,"y":3.15},{"x":2.6,"y":4.05},{"x":2.6,"y":4.95},{"x":2.6,"y":5.85},{"x":2.6,"y":6.75},{"x":2.6,"y":7.65},
{"x":2.8,"y":-2.7},{"x":2.8,"y":-1.8},{"x":2.8,"y":-0.9},{"x":2.8,"y":0},{"x":2.8,"y":0.9},{"x":2.8,"y":1.8},{"x":2.8,"y":2.7},{"x":2.8,"y":3.6},{"x":2.8,"y":4.5},{"x":2.8,"y":5.4},{"x":2.8,"y":6.3},{"x":2.8,"y":7.2},{"x":2.8,"y":8.1},
{"x":3,"y":-2.25},{"x":3,"y":-1.35},{"x":3,"y":-0.45},{"x":3,"y":0.45},{"x":3,"y":1.35},{"x":3,"y":2.25},{"x":3,"y":3.15},{"x":3,"y":4.05},{"x":3,"y":4.95},{"x":3,"y":5.85},{"x":3,"y":6.75},{"x":3,"y":7.65},
{"x":3.2,"y":-2.7},{"x":3.2,"y":-1.8},{"x":3.2,"y":-0.9},{"x":3.2,"y":0},{"x":3.2,"y":0.9},{"x":3.2,"y":1.8},{"x":3.2,"y":2.7},{"x":3.2,"y":3.6},{"x":3.2,"y":4.5},{"x":3.2,"y":5.4},{"x":3.2,"y":6.3},{"x":3.2,"y":7.2},{"x":3.2,"y":8.1},
{"x":3.4,"y":-1.35},{"x":3.4,"y":-0.45},{"x":3.4,"y":0.45},{"x":3.4,"y":1.35},{"x":3.4,"y":2.25},{"x":3.4,"y":3.15},{"x":3.4,"y":4.05},{"x":3.4,"y":4.95},{"x":3.4,"y":5.85},{"x":3.4,"y":6.75},{"x":3.4,"y":7.65},{"x":3.4,"y":8.55},
{"x":3.6,"y":-1.8},{"x":3.6,"y":-0.9},{"x":3.6,"y":0},{"x":3.6,"y":0.9},{"x":3.6,"y":1.8},{"x":3.6,"y":2.7},{"x":3.6,"y":3.6},{"x":3.6,"y":4.5},{"x":3.6,"y":5.4},{"x":3.6,"y":6.3},{"x":3.6,"y":7.2},{"x":3.6,"y":8.1},
{"x":3.8,"y":-1.35},{"x":3.8,"y":-0.45},{"x":3.8,"y":0.45},{"x":3.8,"y":1.35},{"x":3.8,"y":2.25},{"x":3.8,"y":3.15},{"x":3.8,"y":4.05},{"x":3.8,"y":4.95},{"x":3.8,"y":5.85},{"x":3.8,"y":6.75},{"x":3.8,"y":7.65},{"x":3.8,"y":8.55},
{"x":4,"y":-0.9},{"x":4,"y":0},{"x":4,"y":0.9},{"x":4,"y":1.8},{"x":4,"y":2.7},{"x":4,"y":3.6},{"x":4,"y":4.5},{"x":4,"y":5.4},{"x":4,"y":6.3},{"x":4,"y":7.2},{"x":4,"y":8.1},{"x":4,"y":9},
{"x":4.2,"y":-0.45},{"x":4.2,"y":0.45},{"x":4.2,"y":1.35},{"x":4.2,"y":2.25},{"x":4.2,"y":3.15},{"x":4.2,"y":4.05},{"x":4.2,"y":4.95},{"x":4.2,"y":5.85},{"x":4.2,"y":6.75},{"x":4.2,"y":7.65},{"x":4.2,"y":8.55},{"x":4.2,"y":9.45},
{"x":4.4,"y":-0.9},{"x":4.4,"y":0},{"x":4.4,"y":0.9},{"x":4.4,"y":1.8},{"x":4.4,"y":2.7},{"x":4.4,"y":3.6},{"x":4.4,"y":4.5},{"x":4.4,"y":5.4},{"x":4.4,"y":6.3},{"x":4.4,"y":7.2},{"x":4.4,"y":8.1},{"x":4.4,"y":9},
{"x":4.6,"y":0.45},{"x":4.6,"y":1.35},{"x":4.6,"y":2.25},{"x":4.6,"y":3.15},{"x":4.6,"y":4.05},{"x":4.6,"y":4.95},{"x":4.6,"y":5.85},{"x":4.6,"y":6.75},{"x":4.6,"y":7.65},{"x":4.6,"y":8.55},{"x":4.6,"y":9.45},
{"x":4.8,"y":0},{"x":4.8,"y":0.9},{"x":4.8,"y":1.8},{"x":4.8,"y":2.7},{"x":4.8,"y":3.6},{"x":4.8,"y":4.5},{"x":4.8,"y":5.4},{"x":4.8,"y":6.3},{"x":4.8,"y":7.2},{"x":4.8,"y":8.1},{"x":4.8,"y":9},{"x":4.8,"y":9.9},
{"x":5,"y":0.45},{"x":5,"y":1.35},{"x":5,"y":2.25},{"x":5,"y":3.15},{"x":5,"y":4.05},{"x":5,"y":4.95},{"x":5,"y":5.85},{"x":5,"y":6.75},{"x":5,"y":7.65},{"x":5,"y":8.55},{"x":5,"y":9.45},
{"x":5.2,"y":0.9},{"x":5.2,"y":1.8},{"x":5.2,"y":2.7},{"x":5.2,"y":3.6},{"x":5.2,"y":4.5},{"x":5.2,"y":5.4},{"x":5.2,"y":6.3},{"x":5.2,"y":7.2},{"x":5.2,"y":8.1},{"x":5.2,"y":9},{"x":5.2,"y":9.9},
{"x":5.4,"y":1.35},{"x":5.4,"y":2.25},{"x":5.4,"y":3.15},{"x":5.4,"y":4.05},{"x":5.4,"y":4.95},{"x":5.4,"y":5.85},{"x":5.4,"y":6.75},{"x":5.4,"y":7.65},{"x":5.4,"y":8.55},{"x":5.4,"y":9.45},{"x":5.4,"y":10.35},
{"x":5.6,"y":0.9},{"x":5.6,"y":1.8},{"x":5.6,"y":2.7},{"x":5.6,"y":3.6},{"x":5.6,"y":4.5},{"x":5.6,"y":5.4},{"x":5.6,"y":6.3},{"x":5.6,"y":7.2},{"x":5.6,"y":8.1},{"x":5.6,"y":9},{"x":5.6,"y":9.9},
{"x":5.8,"y":1.35},{"x":5.8,"y":2.25},{"x":5.8,"y":3.15},{"x":5.8,"y":4.05},{"x":5.8,"y":4.95},{"x":5.8,"y":5.85},{"x":5.8,"y":6.75},{"x":5.8,"y":7.65},{"x":5.8,"y":8.55},{"x":5.8,"y":9.45},{"x":5.8,"y":10.35},
{"x":6,"y":1.8},{"x":6,"y":2.7},{"x":6,"y":3.6},{"x":6,"y":4.5},{"x":6,"y":5.4},{"x":6,"y":6.3},{"x":6,"y":7.2},{"x":6,"y":8.1},{"x":6,"y":9},{"x":6,"y":9.9},
{"x":6.2,"y":2.25},{"x":6.2,"y":3.15},{"x":6.2,"y":4.05},{"x":6.2,"y":4.95},{"x":6.2,"y":5.85},{"x":6.2,"y":6.75},{"x":6.2,"y":7.65},{"x":6.2,"y":8.55},{"x":6.2,"y":9.45},{"x":6.2,"y":10.35},
{"x":6.4,"y":2.7},{"x":6.4,"y":3.6},{"x":6.4,"y":4.5},{"x":6.4,"y":5.4},{"x":6.4,"y":6.3},{"x":6.4,"y":7.2},{"x":6.4,"y":8.1},{"x":6.4,"y":9},{"x":6.4,"y":9.9},{"x":6.4,"y":10.8},
{"x":6.6,"y":3.15},{"x":6.6,"y":4.05},{"x":6.6,"y":4.95},{"x":6.6,"y":5.85},{"x":6.6,"y":6.75},{"x":6.6,"y":7.65},{"x":6.6,"y":8.55},{"x":6.6,"y":9.45},{"x":6.6,"y":10.35},
{"x":6.8,"y":3.6},{"x":6.8,"y":4.5},{"x":6.8,"y":5.4},{"x":6.8,"y":6.3},{"x":6.8,"y":7.2},{"x":6.8,"y":8.1},{"x":6.8,"y":9},{"x":6.8,"y":9.9},
{"x":7,"y":4.05},{"x":7,"y":4.95},{"x":7,"y":5.85},{"x":7,"y":6.75},{"x":7,"y":7.65},{"x":7,"y":8.55},{"x":7,"y":9.45},
{"x":7.2,"y":4.5},{"x":7.2,"y":5.4},{"x":7.2,"y":6.3},{"x":7.2,"y":7.2},{"x":7.2,"y":8.1},{"x":7.2,"y":9},{"x":7.2,"y":9.9},
{"x":7.4,"y":5.85},{"x":7.4,"y":6.75},{"x":7.4,"y":7.65},{"x":7.4,"y":8.55},{"x":7.4,"y":9.45},
{"x":7.6,"y":6.3},{"x":7.6,"y":7.2},{"x":7.6,"y":8.1},{"x":7.6,"y":9}
],"ref":[{"x":-12.81,"y":-12.83},{"x":13.99,"y":14.03}]},
"layer":[
{"data":{"name":"pts"},"mark":{"type":"point","shape":"circle","filled":true,"fill":"#00008B","stroke":null,"opacity":1,"size":150},"encoding":{
"x":{"field":"x","type":"quantitative","scale":{"domain":[-12.81,13.99],"nice":false,"zero":false},"axis":{"values":[-10,-5,0,5,10],"grid":false,"domain":false,"title":"true","titleFontSize":32,"titleFont":"Liberation Sans","titleFontWeight":"normal","titleColor":"black","titlePadding":43,"labelFontSize":32,"labelFont":"Liberation Sans","labelColor":"black","labelPadding":26,"labelFlush":false,"labelOverlap":false,"tickSize":20,"tickColor":"black","tickWidth":1.5,"labelExpr":"toString(datum.value)"}},
"y":{"field":"y","type":"quantitative","scale":{"domain":[-19.78,24.16],"nice":false,"zero":false},"axis":{"values":[-10,0,10,20],"grid":false,"domain":false,"title":"fitted","titleFontSize":32,"titleFont":"Liberation Sans","titleFontWeight":"normal","titleColor":"black","titlePadding":41,"labelFontSize":32,"labelFont":"Liberation Sans","labelColor":"black","labelAngle":-90,"labelAlign":"center","labelBaseline":"bottom","labelPadding":21,"labelFlush":false,"labelOverlap":false,"tickSize":20,"tickColor":"black","tickWidth":1.5,"labelExpr":"toString(datum.value)"}}}},
{"data":{"name":"ref"},"mark":{"type":"line","color":"#FF00FF","strokeWidth":2,"strokeDash":[3,3],"clip":true},"encoding":{"x":{"field":"x","type":"quantitative"},"y":{"field":"y","type":"quantitative"}}}
]}
